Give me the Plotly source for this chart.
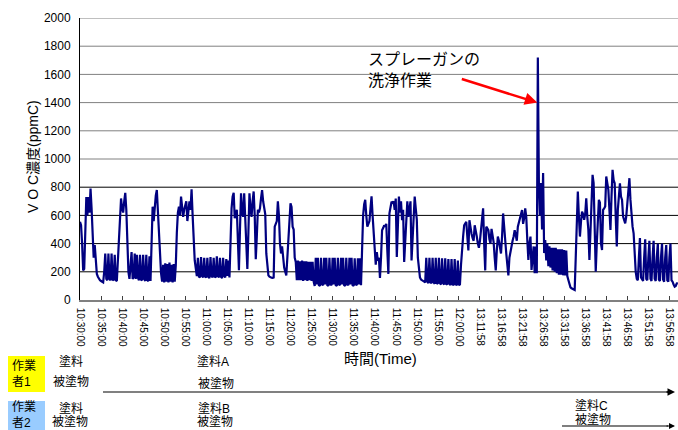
import plotly.graph_objects as go

# Time-axis labels, one every 5 minutes (20 samples per label, 15 s sampling)
tick_labels = [
    "10:30:00", "10:35:00", "10:40:00", "10:45:00", "10:50:00", "10:55:00",
    "11:00:00", "11:05:00", "11:10:00", "11:15:00", "11:20:00", "11:25:00",
    "11:30:00", "11:35:00", "11:40:00", "11:45:00", "11:50:00", "11:55:00",
    "12:00:00", "13:11:58", "13:16:58", "13:21:58", "13:26:58", "13:31:58",
    "13:36:58", "13:41:58", "13:46:58", "13:51:58", "13:56:58",
]
samples_per_tick = 20
y_ticks = list(range(0, 2001, 200))

# VOC concentration (ppmC)
voc_1030_1100 = [
    555, 530, 400, 210, 220, 480, 730, 600, 730, 620, 790, 650, 420, 300, 390, 300, 185, 165, 150, 140,
    135, 130, 125, 200, 330, 150, 140, 330, 150, 140, 330, 145, 140, 320, 140, 135, 300, 425, 600, 720,
    650, 620, 700, 760, 640, 350, 200, 150, 290, 340, 150, 160, 330, 150, 320, 160, 140, 320, 145, 140,
    320, 150, 135, 320, 140, 135, 310, 135, 400, 662, 560, 700, 740, 780, 620, 420, 280, 190, 130, 250,
    125, 260, 130, 255, 125, 265, 130, 250, 125, 255, 130, 245, 475, 620, 662, 600, 733, 650, 590, 640,
    680, 700, 560, 620, 700, 640, 785, 600, 420, 280, 225, 170, 300, 165, 160, 305, 170, 160, 300, 165,
]
voc_1100_1130 = [
    160, 300, 165, 155, 305, 170, 160, 300, 165, 160, 310, 170, 160, 300, 165, 155, 300, 170, 160, 290,
    170, 280, 160, 449, 650, 733, 760, 580, 600, 640, 400, 212, 500, 757, 620, 590, 757, 600, 400, 220,
    480, 757, 650, 590, 700, 770, 600, 290, 450, 640, 620, 650, 720, 780, 700, 640, 610, 330, 230, 175,
    165, 160, 158, 157, 160, 520, 540, 560, 700, 600, 400, 330, 380, 280, 230, 200, 175, 300, 450, 600,
    685, 660, 520, 500, 300, 270, 140, 280, 140, 275, 140, 280, 135, 275, 140, 275, 135, 270, 140, 270,
    135, 270, 130, 100, 300, 110, 300, 105, 100, 300, 110, 105, 300, 110, 300, 105, 100, 300, 110, 105,
]
voc_1130_1200 = [
    300, 110, 300, 105, 100, 300, 110, 105, 300, 110, 300, 105, 100, 300, 110, 105, 300, 110, 300, 105,
    100, 295, 110, 105, 295, 110, 295, 105, 400, 600, 680, 710, 600, 520, 540, 560, 650, 735, 600, 450,
    300, 250, 340, 280, 300, 157, 300, 495, 510, 530, 520, 540, 350, 185, 614, 650, 697, 690, 700, 640,
    720, 305, 550, 733, 620, 700, 566, 640, 270, 450, 600, 700, 590, 650, 700, 280, 450, 600, 733, 650,
    570, 300, 200, 160, 145, 138, 135, 130, 125, 300, 130, 120, 300, 125, 120, 300, 125, 115, 300, 120,
    115, 300, 120, 110, 295, 120, 110, 295, 115, 110, 290, 115, 105, 290, 110, 105, 290, 110, 105, 280,
]
voc_1200_1326 = [
    105, 110, 250, 376, 450, 530, 540, 555, 450, 352, 566, 500, 470, 440, 420, 530, 500, 450, 400, 370,
    420, 495, 560, 650, 400, 210, 520, 510, 495, 430, 400, 505, 460, 410, 300, 210, 350, 450, 420, 380,
    330, 450, 614, 520, 450, 330, 250, 174, 300, 350, 375, 420, 450, 495, 460, 420, 520, 550, 570, 600,
    638, 540, 580, 650, 590, 425, 284, 400, 450, 213, 300, 380, 190, 380, 190, 1720, 830, 600, 830, 500,
]
voc_1326_end = [
    900, 333, 425, 280, 400, 240, 380, 230, 370, 210, 370, 200, 370, 190, 360, 180, 360, 180, 360, 175,
    355, 175, 350, 170, 142, 107, 90, 83, 78, 75, 71, 300, 600, 770, 592, 450, 556, 627, 610, 568,
    610, 722, 590, 497, 284, 500, 639, 888, 830, 450, 200, 400, 592, 710, 690, 400, 355, 639, 650, 663,
    876, 820, 781, 640, 497, 734, 923, 850, 828, 592, 379, 639, 750, 828, 734, 710, 592, 560, 544, 592,
    700, 781, 864, 710, 592, 520, 473, 300, 200, 150, 140, 300, 440, 160, 140, 135, 300, 430, 150, 140,
    300, 420, 150, 135, 300, 420, 150, 135, 300, 400, 145, 135, 300, 400, 145, 130, 300, 390, 140, 130,
    300, 400, 140, 130, 110, 95, 100, 118, 120,
]

voc = voc_1030_1100 + voc_1100_1130 + voc_1130_1200 + voc_1200_1326 + voc_1326_end
sample_idx = list(range(len(voc)))
tick_vals = [k * samples_per_tick for k in range(len(tick_labels))]

# Page geometry (pixels) and helpers to place items in paper coordinates
W, H = 678, 430
ML, MR, MT, MB = 80, 0, 18, 130
PW, PH = W - ML - MR, H - MT - MB


def px(x):
    return (x - ML) / PW


def py(y):
    return (H - MB - y) / PH


FONT = "Liberation Sans, Arial, Noto Sans CJK JP, sans-serif"

fig = go.Figure(
    go.Scatter(
        x=sample_idx, y=voc, mode="lines",
        line=dict(color="#000080", width=2.2),
        hoverinfo="skip", showlegend=False,
    )
)

shapes = []
# Horizontal gridlines: dark in the lower band, grey above 800 ppmC
for v in y_ticks[1:]:
    shapes.append(dict(
        type="line", xref="paper", yref="y", x0=0, x1=1, y0=v, y1=v,
        line=dict(color="#000000" if v <= 800 else "#808080", width=1),
        layer="below",
    ))

# Worker colour boxes
shapes.append(dict(type="rect", xref="paper", yref="paper",
                   x0=px(8), x1=px(45), y0=py(392), y1=py(356),
                   fillcolor="#FFFF00", line=dict(width=0)))
shapes.append(dict(type="rect", xref="paper", yref="paper",
                   x0=px(8), x1=px(45), y0=py(432), y1=py(401),
                   fillcolor="#99CCFF", line=dict(width=0)))
# Work-period lines
shapes.append(dict(type="line", xref="paper", yref="paper",
                   x0=px(103), x1=px(668), y0=py(392), y1=py(392),
                   line=dict(color="#808080", width=2)))
shapes.append(dict(type="line", xref="paper", yref="paper",
                   x0=px(562), x1=px(668), y0=py(426), y1=py(426),
                   line=dict(color="#000000", width=1.2)))


def label(text, x, y, size=12, xanchor="left", **kw):
    return dict(text=text, xref="paper", yref="paper", x=px(x), y=py(y),
                xanchor=xanchor, yanchor="middle", showarrow=False,
                font=dict(family=FONT, size=size, color="#000000"), **kw)


annotations = [
    # axis titles
    label("時間(Time)", 380, 358, size=15, xanchor="center"),
    label("V O C濃度(ppmC)", 33, 157, size=14, xanchor="center", textangle=-90),
    # worker 1
    label("作業<br>者1", 10, 374, size=12, align="left"),
    label("塗料", 57, 362),
    label("被塗物", 51, 382),
    label("塗料A", 195, 362),
    label("被塗物", 196, 384),
    # worker 2
    label("作業<br>者2", 10, 415, size=12, align="left"),
    label("塗料", 57, 409),
    label("被塗物", 50, 422),
    label("塗料B", 196, 409),
    label("被塗物", 195, 422),
    label("塗料C", 573, 406),
    label("被塗物", 573, 420),
    # spray-gun cleaning note
    dict(text="スプレーガンの<br>洗浄作業", xref="paper", yref="paper",
         x=px(366), y=py(70), xanchor="left", yanchor="middle", align="left",
         showarrow=False, font=dict(family=FONT, size=16, color="#000000")),
    dict(text="", xref="x", yref="y", x=434.5, y=1400, ax=-77, ay=-24,
         showarrow=True, arrowhead=2, arrowsize=1, arrowwidth=2.5,
         arrowcolor="#FF0000"),
    # arrowheads of the work-period lines
    dict(text="", xref="paper", yref="paper", x=px(675), y=py(392), ax=-10, ay=0,
         showarrow=True, arrowhead=2, arrowsize=1, arrowwidth=1.5,
         arrowcolor="#000000"),
    dict(text="", xref="paper", yref="paper", x=px(675), y=py(426), ax=-10, ay=0,
         showarrow=True, arrowhead=2, arrowsize=1, arrowwidth=1.2,
         arrowcolor="#000000"),
]

fig.update_layout(
    width=W, height=H,
    margin=dict(l=ML, r=MR, t=MT, b=MB, pad=0),
    paper_bgcolor="#FFFFFF", plot_bgcolor="#FFFFFF",
    font=dict(family=FONT, size=12, color="#000000"),
    shapes=shapes, annotations=annotations,
    xaxis=dict(
        range=[0, PW / 1.0525], tickmode="array", tickvals=tick_vals,
        ticktext=tick_labels, tickangle=90, tickfont=dict(size=10),
        ticks="inside", ticklen=4, tickcolor="#404040",
        showline=True, linecolor="#808080", linewidth=1.5,
        showgrid=False, zeroline=False, ticklabelstandoff=4,
    ),
    yaxis=dict(
        range=[0, 2000], tickmode="array", tickvals=y_ticks,
        tickfont=dict(size=12), ticks="", showline=True,
        linecolor="#000000", linewidth=1, showgrid=False, zeroline=False,
        ticklabelstandoff=6,
    ),
)

fig.write_html("out.html")
